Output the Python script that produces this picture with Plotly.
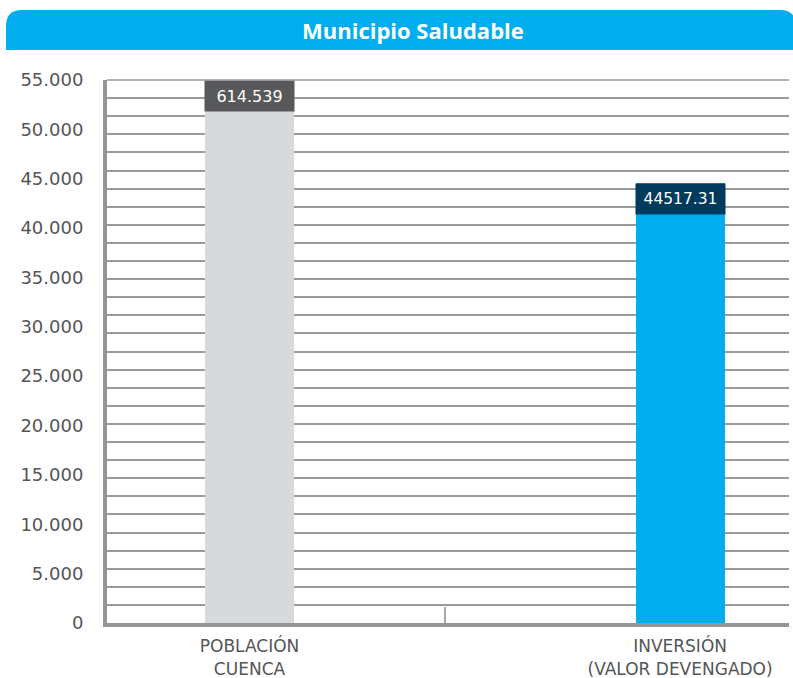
import plotly.graph_objects as go

categories = ["POBLACIÓN<br>CUENCA", "INVERSIÓN<br>(VALOR DEVENGADO)"]
values = [614539, 44517.31]
value_labels = ["614.539", "44517.31"]
label_sizes = [16, 15.5]
bar_colors = ["#D8D9DA", "#00AEEF"]
box_colors = ["#58595B", "#003A5C"]
y_tick_vals = [0, 5000, 10000, 15000, 20000, 25000, 30000, 35000, 40000, 45000, 50000, 55000]
y_tick_text = ["0", "5.000", "10.000", "15.000", "20.000", "25.000", "30.000",
               "35.000", "40.000", "45.000", "50.000", "55.000"]
title_text = "Municipio Saludable"

Y_MAX = 55000
W, H = 793, 678
ML, MR, MT, MB = 107, 4, 80, 55
PW, PH = W - ML - MR, H - MT - MB

xpos = list(range(len(categories)))

fig = go.Figure()
fig.add_trace(go.Bar(
    x=xpos, y=values, width=0.207,
    marker=dict(color=bar_colors, line=dict(width=0)),
    hoverinfo="skip", showlegend=False,
))

def px_x(p):
    return (p - ML) / PW

def px_y(p):
    return (H - MB - p) / PH

annotations = []
for i, (v, lab, bc, fs) in enumerate(zip(values, value_labels, box_colors, label_sizes)):
    annotations.append(dict(
        x=xpos[i], y=min(v, Y_MAX), xref="x", yref="y",
        xanchor="center", yanchor="top", showarrow=False,
        text=lab, font=dict(family="DejaVu Sans", size=fs, color="white"),
        bgcolor=bc, width=89, height=30, borderpad=0, align="center", valign="middle",
    ))

annotations.append(dict(
    x=px_x(413), y=px_y(30), xref="paper", yref="paper",
    xanchor="center", yanchor="middle", showarrow=False,
    text="<b>" + title_text + "</b>",
    font=dict(family="Open Sans", size=22, color="white"),
))

# title banner with rounded top corners (paper coords)
x0, x1 = px_x(6), px_x(796)
yb, yt = px_y(50), px_y(10)
rx, ry = 16 / PW, 16 / PH
path = (f"M {x0},{yb} L {x0},{yt - ry} Q {x0},{yt} {x0 + rx},{yt} "
        f"L {x1 - rx},{yt} Q {x1},{yt} {x1},{yt - ry} L {x1},{yb} Z")

shapes = [
    dict(type="path", path=path, xref="paper", yref="paper",
         fillcolor="#00AEEF", line=dict(width=0), layer="above"),
    dict(type="line", xref="paper", yref="paper", x0=0, x1=1, y0=1, y1=1,
         line=dict(color="#9A9A9A", width=1.5), layer="below"),
    dict(type="line", xref="paper", yref="paper", x0=px_x(445), x1=px_x(445),
         y0=0, y1=px_y(607), line=dict(color="#8A8A8A", width=1.5)),
]

fig.update_layout(
    width=W, height=H,
    margin=dict(l=ML, r=MR, t=MT, b=MB, autoexpand=False),
    paper_bgcolor="white", plot_bgcolor="white",
    annotations=annotations, shapes=shapes,
    bargap=0,
    xaxis=dict(
        range=[-0.331, 1.253], tickmode="array", tickvals=xpos, ticktext=categories,
        showgrid=False, zeroline=False,
        showline=True, linecolor="#939598", linewidth=4,
        ticks="outside", ticklen=5, tickcolor="rgba(0,0,0,0)",
        tickfont=dict(family="DejaVu Sans", size=17, color="#555555"),
        fixedrange=True,
    ),
    yaxis=dict(
        range=[0, Y_MAX], tickmode="array", tickvals=y_tick_vals, ticktext=y_tick_text,
        showgrid=False, zeroline=False,
        showline=True, linecolor="#939598", linewidth=4,
        ticks="outside", ticklen=16, tickcolor="rgba(0,0,0,0)",
        tickfont=dict(family="DejaVu Sans", size=18, color="#555555"),
        minor=dict(tickmode="linear", tick0=0, dtick=Y_MAX / 30, showgrid=True,
                   gridcolor="#9A9A9A", gridwidth=1.5, ticks=""),
        fixedrange=True,
    ),
)

fig.write_html(
    "out.html",
    config={"displayModeBar": False},
    post_script="document.body.style.margin='0';document.body.style.padding='0';",
)
